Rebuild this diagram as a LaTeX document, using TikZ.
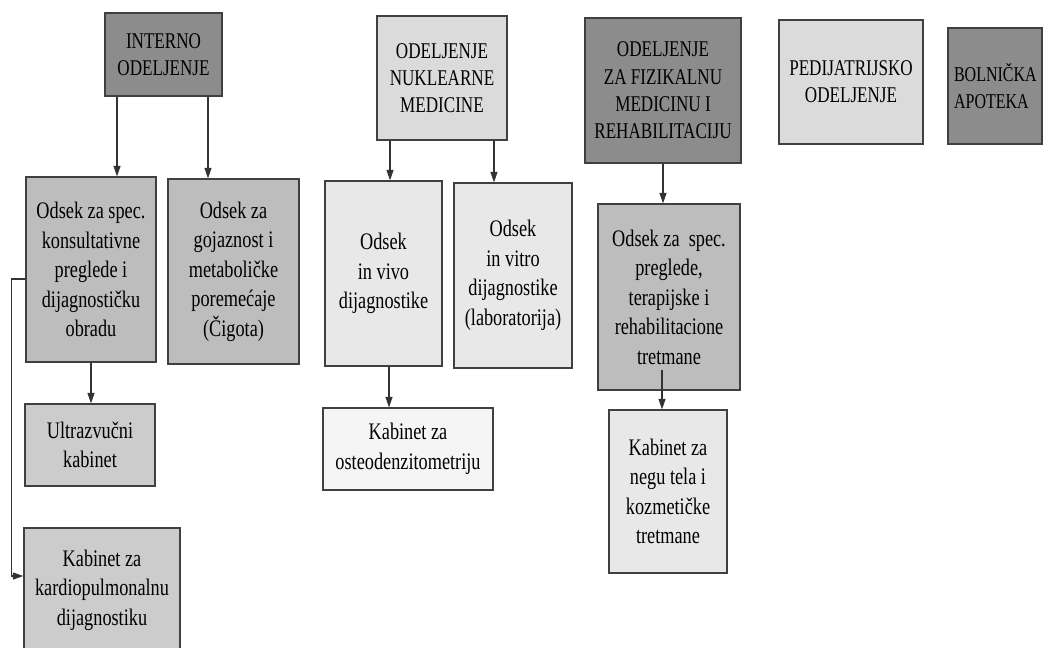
\documentclass[tikz,border=0pt]{standalone}
\usepackage{fontspec}
\setmainfont{Liberation Serif}[FakeStretch=0.77]
\newfontfamily\headfont{Liberation Serif}[FakeStretch=0.76]
\usetikzlibrary{arrows.meta}

\definecolor{gDark}{gray}{0.55}
\definecolor{gMid}{gray}{0.74}
\definecolor{gSoft}{gray}{0.80}
\definecolor{gLight}{gray}{0.86}
\definecolor{gPale}{gray}{0.91}
\definecolor{gWhite}{gray}{0.96}

\tikzset{
  box/.style={draw=black!75, line width=0.7pt, align=center, inner sep=2pt,
    font=\fontsize{13.5}{16.8}\selectfont},
  head/.style={box, font=\headfont\fontsize{12.8}{15.5}\selectfont},
  sz/.style 2 args={minimum width=#1*0.02cm, minimum height=#2*0.02cm},
  arr/.style={-{Triangle[length=6pt,width=4pt]}, draw=black!80, line width=0.6pt}
}

\begin{document}
\begin{tikzpicture}[x=0.02cm, y=-0.02cm]
  \useasboundingbox (0,0) rectangle (1043,647);

  % interno odeljenje
  \node[head, fill=gDark, sz={117}{83}] (interno) at (163.5,54.5) {INTERNO\\ODELJENJE};
  \node[box, fill=gMid, sz={130}{185}] (spec) at (91,269.5) {Odsek za spec.\\konsultativne\\preglede i\\dijagnostičku\\obradu};
  \node[box, fill=gMid, sz={131}{185}] (gojaz) at (233.5,271.5) {Odsek za\\gojaznost i\\metaboličke\\poremećaje\\(Čigota)};
  \node[box, fill=gSoft, sz={130}{82}] (ultra) at (90,445) {Ultrazvučni\\kabinet};
  \node[box, fill=gSoft, sz={156}{124}] (kardio) at (102,590) {Kabinet za\\kardiopulmonalnu\\dijagnostiku};

  % nuklearna medicina
  \node[head, fill=gLight, sz={130}{124}] (nukl) at (442,78) {ODELJENJE\\NUKLEARNE\\MEDICINE};
  \node[box, fill=gPale, sz={117}{185}] (vivo) at (383.5,273.5) {Odsek\\in vivo\\dijagnostike};
  \node[box, fill=gPale, sz={118}{185}] (vitro) at (513,275.5) {Odsek\\in vitro\\dijagnostike\\(laboratorija)};
  \node[box, fill=gWhite, sz={170}{82}] (osteo) at (408,449) {Kabinet za\\osteodenzitometriju};

  % fizikalna medicina
  \node[head, fill=gDark, sz={156}{145}] (fizik) at (663,90.5) {ODELJENJE\\ZA FIZIKALNU\\MEDICINU I\\REHABILITACIJU};
  \node[box, fill=gMid, sz={142}{186}] (pregl) at (669,297) {Odsek za~~spec.\\preglede,\\terapijske i\\rehabilitacione\\tretmane};
  \node[box, fill=gPale, sz={118}{163}] (negu) at (668,491.5) {Kabinet za\\negu tela i\\kozmetičke\\tretmane};

  % ostalo
  \node[head, fill=gLight, sz={144}{124}] (pedij) at (851,82) {PEDIJATRIJSKO\\ODELJENJE};
  \node[head, fill=gDark, sz={94}{116}, align=left, text width=1.64cm,
    font=\headfont\fontsize{12}{15.5}\selectfont] (bolnic) at (995,86) {BOLNIČKA\\APOTEKA};

  \draw[arr] ([xshift=-0.93cm]interno.south) coordinate (i1) -- (i1 |- spec.north);
  \draw[arr] ([xshift=0.89cm]interno.south) coordinate (i2) -- (i2 |- gojaz.north);
  \draw[arr] (spec.south) -- (spec.south |- ultra.north);
  \draw[arr] ([yshift=-0.19cm]spec.west) -- ++(-0.28cm,0) |- ([yshift=0.28cm]kardio.west);
  \draw[arr] ([xshift=-1.04cm]nukl.south) coordinate (n1) -- (n1 |- vivo.north);
  \draw[arr] ([xshift=1.04cm]nukl.south) coordinate (n2) -- (n2 |- vitro.north);
  \draw[arr] ([xshift=0.11cm]vivo.south) coordinate (v1) -- (v1 |- osteo.north);
  \draw[arr] (fizik.south) -- (fizik.south |- pregl.north);
  \draw[arr] ([xshift=-0.14cm,yshift=0.42cm]pregl.south) coordinate (p1) -- (p1 |- negu.north);
\end{tikzpicture}
\end{document}
